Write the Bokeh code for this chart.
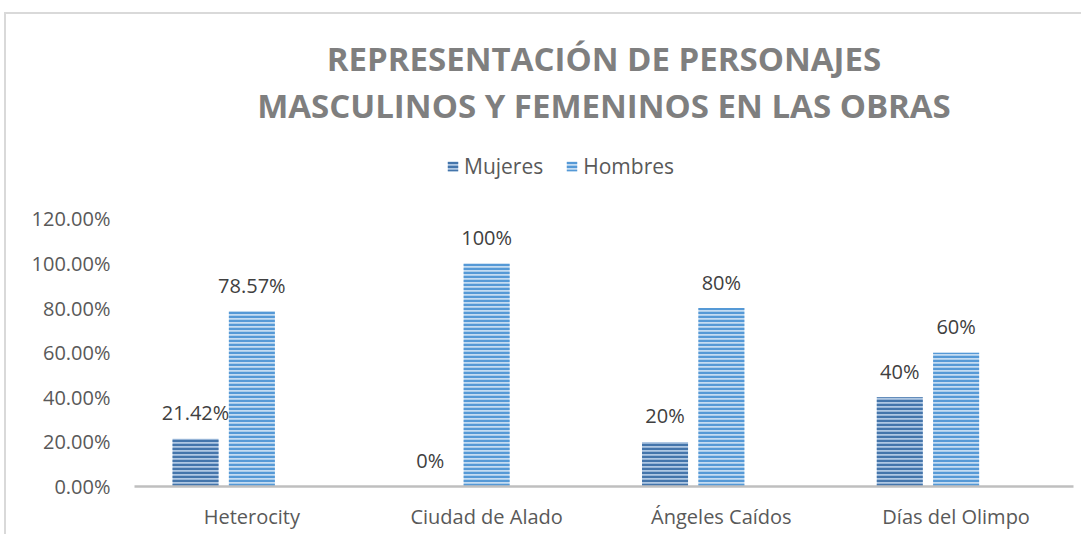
from bokeh.plotting import figure
from bokeh.models import (FactorRange, Range1d, FixedTicker, NumeralTickFormatter,
                          Label, ColumnDataSource)
from bokeh.transform import dodge
from bokeh.core.properties import value
from bokeh.embed import file_html
from bokeh.resources import INLINE

# ---- data ----
categories = ["Heterocity", "Ciudad de Alado", "Ángeles Caídos", "Días del Olimpo"]
mujeres = [0.2142, 0.0, 0.20, 0.40]
hombres = [0.7857, 1.00, 0.80, 0.60]
mujeres_labels = ["21.42%", "0%", "20%", "40%"]
hombres_labels = ["78.57%", "100%", "80%", "60%"]
y_ticks = [0.0, 0.2, 0.4, 0.6, 0.8, 1.0, 1.2]
title_line1 = "REPRESENTACIÓN DE PERSONAJES"
title_line2 = "MASCULINOS Y FEMENINOS EN LAS OBRAS"

FONT = "Open Sans"

src = ColumnDataSource(data=dict(cats=categories, muj=mujeres, hom=hombres,
                                 muj_lab=mujeres_labels, hom_lab=hombres_labels))

PX_PER_UNIT = 223
p = figure(x_range=FactorRange(*categories, range_padding=0),
           y_range=Range1d(0, 472 / PX_PER_UNIT),
           width=1077, height=522, output_backend="svg", toolbar_location=None,
           min_border_left=128, min_border_right=10, min_border_top=0,
           min_border_bottom=50)
p.styles = {"border-top": "2px solid #d9d9d9", "border-left": "2px solid #d9d9d9",
            "margin-left": "4px", "margin-top": "12px"}

p.outline_line_color = None
p.xgrid.visible = False
p.ygrid.visible = False
p.background_fill_color = "white"
p.border_fill_color = "white"

bw = 0.196
p.vbar(x=dodge("cats", -0.24, range=p.x_range), top="muj", width=bw, source=src,
       fill_color="#b0c8e3", line_color=None,
       hatch_pattern="horizontal_line", hatch_color="#4475ab",
       hatch_scale=4, hatch_weight=2.5, legend_label="Mujeres")
p.vbar(x=dodge("cats", 0.0, range=p.x_range), top="hom", width=bw, source=src,
       fill_color="#c5dcf2", line_color=None,
       hatch_pattern="horizontal_line", hatch_color="#5599d6",
       hatch_scale=4, hatch_weight=2.5, legend_label="Hombres")

p.text(x=dodge("cats", -0.24, range=p.x_range), y="muj", text="muj_lab", source=src,
       text_align="center", text_baseline="middle", y_offset=-26,
       text_font=value(FONT), text_font_size="20px", text_color="#404040")
p.text(x=dodge("cats", 0.0, range=p.x_range), y="hom", text="hom_lab", source=src,
       text_align="center", text_baseline="middle", y_offset=-26,
       text_font=value(FONT), text_font_size="20px", text_color="#404040")

# titles
for txt, yy in [(title_line1, (486 - 58) / PX_PER_UNIT), (title_line2, (486 - 105) / PX_PER_UNIT)]:
    p.add_layout(Label(x=2.0, y=yy, text=txt, text_align="center", text_baseline="middle",
                       text_font=FONT, text_font_size="33px", text_font_style="bold",
                       text_color="#7f7f7f"))

# legend
lg = p.legend[0]
lg.orientation = "horizontal"
lg.location = (312, 306)
lg.background_fill_alpha = 0
lg.border_line_color = None
lg.padding = 0
lg.margin = 0
lg.spacing = 22
lg.label_standoff = 5
lg.glyph_width = 13
lg.glyph_height = 12
lg.label_text_font = FONT
lg.label_text_font_size = "21px"
lg.label_text_color = "#595959"

# axes
xa = p.xaxis[0]
xa.axis_line_color = "#bfbfbf"
xa.axis_line_width = 2.5
xa.major_tick_line_color = None
xa.minor_tick_line_color = None
xa.major_label_text_font = FONT
xa.major_label_text_font_size = "20px"
xa.major_label_text_color = "#595959"
xa.major_label_standoff = 10

ya = p.yaxis[0]
ya.ticker = FixedTicker(ticks=y_ticks)
ya.formatter = NumeralTickFormatter(format="0.00%")
ya.axis_line_color = None
ya.major_tick_line_color = None
ya.minor_tick_line_color = None
ya.major_label_text_font = FONT
ya.major_label_text_font_size = "20px"
ya.major_label_text_color = "#595959"
ya.major_label_standoff = 18

open("out.html", "w").write(file_html(p, INLINE))
